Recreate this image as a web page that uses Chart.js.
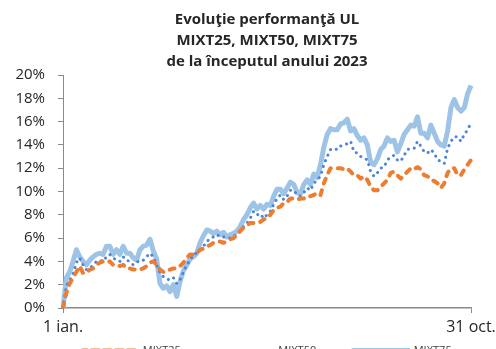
<!DOCTYPE html>
<html>
<head>
<meta charset="utf-8">
<script src="https://cdn.jsdelivr.net/npm/chart.js@4.4.0/dist/chart.umd.min.js"></script>
<style>
  html, body { margin: 0; padding: 0; background: #fff; overflow: hidden; width: 496px; height: 349px; }
  #wrap { width: 496px; height: 366px; position: relative; }
</style>
</head>
<body>
<div id="wrap"><canvas id="chart"></canvas></div>
<script>
// Cumulative performance since 1 Jan 2023, in percent (1 ian. ... 31 oct.)
const mixt25 = [
  0, 1.3, 2.1, 2.6, 3.1, 3.6, 3.0, 3.0, 3.3, 3.4,
  3.7, 3.9, 4.0, 3.9, 4.0, 3.7, 3.7, 3.6, 3.7, 3.4,
  3.4, 3.3, 3.3, 3.3, 3.4, 3.6, 3.9, 4.0, 3.7, 3.3,
  3.1, 3.1, 3.3, 3.4, 3.4, 3.6, 3.9, 4.3, 4.6, 4.6,
  4.7, 5.0, 5.1, 5.3, 5.4, 5.6, 5.7, 5.7, 5.6, 5.7,
  5.9, 6.0, 6.3, 6.6, 6.9, 7.1, 7.3, 7.3, 7.3, 7.4,
  7.6, 7.7, 8.0, 8.4, 8.6, 8.7, 9.0, 9.1, 9.4, 9.4,
  9.3, 9.4, 9.4, 9.6, 9.6, 9.7, 9.9, 9.7, 10.7, 11.4,
  12.0, 12.0, 12.0, 12.0, 11.9, 12.0, 11.7, 11.4, 11.4, 11.1,
  11.3, 11.0, 10.4, 10.1, 10.1, 10.4, 10.7, 11.0, 11.6, 11.7,
  11.4, 11.1, 11.4, 11.7, 12.0, 11.9, 12.1, 11.9, 11.4, 11.3,
  11.0, 10.9, 10.7, 10.3, 10.7, 11.6, 12.0, 12.0, 11.4, 11.4,
  11.9, 12.3, 12.7
];
const mixt50 = [
  0, 1.9, 2.4, 2.9, 3.9, 4.3, 3.7, 3.3, 3.4, 3.7,
  4.0, 4.1, 4.0, 4.4, 4.6, 4.3, 4.1, 4.0, 4.4, 4.1,
  4.0, 3.7, 3.9, 4.1, 4.1, 4.4, 4.7, 4.4, 3.7, 3.0,
  2.7, 2.5, 2.4, 2.6, 2.1, 2.4, 3.1, 3.7, 4.1, 4.6,
  4.7, 5.0, 5.3, 5.7, 6.0, 6.1, 6.3, 6.1, 6.1, 6.0,
  6.0, 6.1, 6.4, 6.6, 7.0, 7.3, 7.7, 8.3, 8.0, 8.1,
  7.7, 8.0, 8.3, 8.9, 9.4, 9.7, 9.3, 9.6, 10.1, 10.1,
  9.7, 9.6, 9.9, 10.3, 10.1, 10.7, 11.0, 11.3, 12.3, 13.0,
  13.6, 13.7, 13.6, 13.9, 14.0, 14.1, 14.3, 13.4, 13.3, 13.0,
  12.9, 12.7, 11.7, 11.3, 11.6, 12.0, 12.1, 12.7, 13.0, 13.1,
  12.7, 12.6, 13.1, 13.6, 13.7, 13.7, 14.3, 13.9, 13.4, 13.3,
  13.6, 13.3, 12.7, 12.6, 12.4, 13.7, 14.3, 14.7, 14.7, 14.3,
  14.9, 15.3, 15.9
];
const mixt75 = [
  0, 2.6, 3.1, 4.0, 5.0, 4.4, 4.0, 3.7, 4.1, 4.4,
  4.6, 4.7, 4.6, 5.3, 5.3, 4.6, 5.0, 4.6, 5.3, 4.7,
  4.7, 4.3, 4.1, 5.0, 5.3, 5.4, 5.9, 4.9, 4.2, 2.1,
  1.7, 1.9, 1.4, 2.0, 1.0, 2.3, 3.2, 3.7, 4.2, 4.4,
  4.7, 5.6, 6.2, 6.7, 6.6, 6.4, 6.6, 6.3, 6.5, 6.1,
  6.3, 6.4, 6.6, 7.0, 7.6, 8.0, 8.6, 9.0, 8.5, 8.8,
  8.5, 8.9, 8.8, 9.6, 10.2, 10.2, 9.8, 10.3, 10.8, 10.6,
  9.9, 9.8, 10.6, 11.0, 10.6, 11.5, 11.2, 12.3, 13.8, 14.9,
  15.4, 15.3, 15.3, 15.8, 15.9, 16.2, 15.2, 15.4, 14.8, 14.4,
  14.6, 14.0, 12.5, 12.3, 12.8, 13.6, 13.9, 14.6, 14.3, 14.4,
  13.4, 14.1, 14.9, 15.3, 15.7, 15.6, 16.4, 15.0, 15.0, 14.6,
  15.7, 15.0, 14.3, 14.0, 13.9, 15.2, 17.2, 17.9, 17.2, 16.9,
  17.2, 18.4, 19.1
];
const seriesNames = ['MIXT25', 'MIXT50', 'MIXT75'];
const tickLabels = ['1 ian.', '31 oct.'];
const titleLines = ['Evoluţie performanţă UL', 'MIXT25, MIXT50, MIXT75', 'de la începutul anului 2023'];
const yTicks = [0, 2, 4, 6, 8, 10, 12, 14, 16, 18, 20];

// Category axis: only the first and last day carry a label
const categories = mixt25.map((_, i) =>
  i === 0 ? tickLabels[0] : (i === mixt25.length - 1 ? tickLabels[1] : ''));

const axisGrey = '#8a8a8a';
const FONT = '"Open Sans", Lato, sans-serif';

new Chart(document.getElementById('chart'), {
  type: 'line',
  data: {
    labels: categories,
    datasets: [
      {
        label: seriesNames[0],
        data: mixt25,
        borderColor: '#ED7D31',
        backgroundColor: '#ED7D31',
        borderWidth: 4,
        borderDash: [5, 7],
        borderCapStyle: 'round',
        borderJoinStyle: 'round',
        pointRadius: 0,
        tension: 0
      },
      {
        label: seriesNames[1],
        data: mixt50,
        borderColor: '#4E86D6',
        backgroundColor: '#4E86D6',
        borderWidth: 3,
        borderDash: [0.1, 6],
        borderCapStyle: 'round',
        borderJoinStyle: 'round',
        pointRadius: 0,
        tension: 0
      },
      {
        label: seriesNames[2],
        data: mixt75,
        borderColor: '#9DC3E6',
        backgroundColor: '#9DC3E6',
        borderWidth: 5,
        borderJoinStyle: 'round',
        pointRadius: 0,
        tension: 0
      }
    ]
  },
  options: {
    responsive: true,
    maintainAspectRatio: false,
    animation: false,
    layout: { padding: 0 },
    plugins: {
      title: {
        display: true,
        text: titleLines,
        fullSize: false,
        color: '#262626',
        font: { family: FONT, size: 15, weight: 'bold', lineHeight: 1.4 },
        padding: { top: 9, bottom: 3 }
      },
      legend: {
        position: 'bottom',
        fullSize: false,
        labels: {
          boxWidth: 55,
          boxHeight: 0,
          padding: 4,
          color: '#404040',
          font: { family: FONT, size: 11 },
          generateLabels(chart) {
            const items = Chart.defaults.plugins.legend.labels.generateLabels(chart);
            // widen the first entries so the three keys spread across the plot width
            return items.map((it, i) => Object.assign(it, {
              text: i < items.length - 1 ? it.text + '\u2003\u2003\u2003' : it.text
            }));
          }
        }
      },
      tooltip: { enabled: false }
    },
    scales: {
      x: {
        type: 'category',
        offset: false,
        grid: { drawOnChartArea: false, drawTicks: true, tickLength: 5, color: axisGrey },
        border: { display: true, color: axisGrey, width: 1.5 },
        ticks: {
          autoSkip: false,
          maxRotation: 0,
          padding: 4.4,
          color: '#262626',
          font: { family: FONT, size: 16 },
          callback(v) {
            const l = this.getLabelForValue(v);
            return l ? l : null;
          }
        },
        afterFit(scale) { scale.paddingLeft = 0; scale.paddingRight = 25; }
      },
      y: {
        min: yTicks[0],
        max: yTicks[yTicks.length - 1],
        grid: { drawOnChartArea: false, drawTicks: true, tickLength: 5, color: axisGrey },
        border: { display: true, color: axisGrey, width: 1 },
        afterBuildTicks(scale) { scale.ticks = yTicks.map(v => ({ value: v })); },
        ticks: {
          padding: 13,
          color: '#262626',
          font: { family: FONT, size: 15 },
          callback: v => v + '%'
        },
        afterFit(scale) { scale.width = 63; }
      }
    }
  }
});
</script>
</body>
</html>
